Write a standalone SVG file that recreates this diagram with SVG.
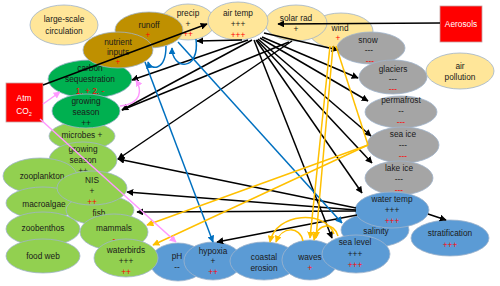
<svg xmlns="http://www.w3.org/2000/svg" width="500" height="286" viewBox="0 0 500 286">
<style>
text{font-family:"Liberation Sans",Arial,sans-serif;font-size:8.3px;fill:#1a1a1a;text-anchor:middle}
text.r{fill:#ff0000}
text.w{fill:#ffffff}
ellipse{stroke:#9fb4cc;stroke-width:0.8}
.ly{fill:#ffe699}.gd{fill:#bf9000}.dg{fill:#00b050}.lg{fill:#92d050}.gr{fill:#a5a5a5}.bl{fill:#5b9bd5}
rect.red{fill:#ff0000;stroke:#c9a0a0;stroke-width:0.8}
#connectors path{fill:none;stroke-width:1.5}
.k{stroke:#000}.b{stroke:#0070c0}.y{stroke:#ffc000}.p{stroke:#ff99ff}
</style>
<defs>
<marker id="mk" viewBox="0 0 10 10" refX="9" refY="5" markerWidth="7" markerHeight="7" markerUnits="userSpaceOnUse" orient="auto"><path d="M0,0 L10,5 L0,10 z" fill="#000"/></marker>
<marker id="mb" viewBox="0 0 10 10" refX="9" refY="5" markerWidth="7" markerHeight="7" markerUnits="userSpaceOnUse" orient="auto"><path d="M0,0 L10,5 L0,10 z" fill="#0070c0"/></marker>
<marker id="my" viewBox="0 0 10 10" refX="9" refY="5" markerWidth="7" markerHeight="7" markerUnits="userSpaceOnUse" orient="auto"><path d="M0,0 L10,5 L0,10 z" fill="#ffc000"/></marker>
<marker id="mp" viewBox="0 0 10 10" refX="9" refY="5" markerWidth="7" markerHeight="7" markerUnits="userSpaceOnUse" orient="auto"><path d="M0,0 L10,5 L0,10 z" fill="#ff99ff"/></marker>
</defs>

<g id="large-scale-circulation"><ellipse class="ly" cx="64" cy="25" rx="34" ry="20"/><text x="64" y="22">large-scale</text><text x="64" y="34">circulation</text></g>
<g id="wind"><ellipse class="ly" cx="341" cy="31" rx="32" ry="18"/><text x="340" y="31">wind</text><text class="r" x="338" y="41">+</text></g>
<g id="solar-rad"><ellipse class="ly" cx="296" cy="23" rx="31" ry="18"/><text x="296" y="21">solar rad</text><text x="296" y="32">+</text></g>
<g id="precip"><ellipse class="ly" cx="188" cy="22" rx="27" ry="18"/><text x="188" y="16">precip</text><text x="188" y="27">+</text><text class="r" x="188" y="37">++</text></g>
<g id="air-temp"><ellipse class="ly" cx="238" cy="21" rx="30" ry="19"/><text x="238" y="16">air temp</text><text x="238" y="27">+++</text><text class="r" x="238" y="38">+++</text></g>
<g id="carbon-sequestration"><ellipse class="dg" cx="90" cy="79" rx="42" ry="19"/><text x="90" y="71">carbon</text><text x="90" y="82">sequestration</text><text class="r" x="90" y="94">1. + 2. -</text></g>
<g id="runoff"><ellipse class="gd" cx="149" cy="30" rx="34" ry="18"/><text x="149" y="28">runoff</text><text class="r" x="148" y="38">+</text></g>
<g id="nutrient-inputs"><ellipse class="gd" cx="118" cy="50" rx="35" ry="18"/><text x="118" y="45">nutrient</text><text x="118" y="55">inputs</text><text class="r" x="118" y="65">+</text></g>
<g id="microbes"><ellipse class="lg" cx="82" cy="136" rx="33" ry="14"/><text x="82" y="138">microbes +</text></g>
<g id="growing-season"><ellipse class="dg" cx="86" cy="111" rx="34" ry="17"/><text x="86" y="104">growing</text><text x="86" y="115">season</text><text x="86" y="126">++</text></g>
<g id="growing-season-2"><ellipse class="lg" cx="83" cy="160" rx="34" ry="18"/><text x="83" y="152">growing</text><text x="83" y="163">season</text><text x="83" y="174">++</text></g>
<g id="zooplankton"><ellipse class="lg" cx="40" cy="176" rx="37" ry="18"/><text x="42" y="179">zooplankton</text></g>
<g id="macroalgae"><ellipse class="lg" cx="43" cy="203" rx="37" ry="16"/><text x="44" y="207">macroalgae</text></g>
<g id="fish"><ellipse class="lg" cx="100" cy="210" rx="34" ry="15"/><text x="99" y="216">fish</text></g>
<g id="NIS"><ellipse class="lg" cx="92" cy="188" rx="35" ry="17"/><text x="92" y="183">NIS</text><text x="92" y="194">+</text><text class="r" x="92" y="205">++</text></g>
<g id="zoobenthos"><ellipse class="lg" cx="43" cy="229" rx="37" ry="17"/><text x="43" y="231">zoobenthos</text></g>
<g id="food-web"><ellipse class="lg" cx="43" cy="256" rx="37" ry="17"/><text x="43" y="259">food web</text></g>
<g id="mammals"><ellipse class="lg" cx="114" cy="232" rx="34" ry="18"/><text x="114" y="231">mammals</text><text class="r" x="114" y="242">-</text></g>
<g id="pH"><ellipse class="bl" cx="178" cy="262" rx="28" ry="19"/><text x="177" y="259">pH</text><text x="177" y="270">--</text></g>
<g id="hypoxia"><ellipse class="bl" cx="213" cy="261" rx="29" ry="19"/><text x="213" y="254">hypoxia</text><text x="213" y="264">+</text><text class="r" x="213" y="275">++</text></g>
<g id="coastal-erosion"><ellipse class="bl" cx="264" cy="261" rx="34" ry="19"/><text x="264" y="260">coastal</text><text x="264" y="271">erosion</text></g>
<g id="waves"><ellipse class="bl" cx="310" cy="260" rx="28" ry="20"/><text x="310" y="260">waves</text><text class="r" x="310" y="271">+</text></g>
<g id="salinity"><ellipse class="bl" cx="375" cy="230" rx="34" ry="17"/><text x="376" y="234">salinity</text></g>
<g id="sea-level"><ellipse class="bl" cx="356" cy="254" rx="34" ry="19"/><text x="355" y="245">sea level</text><text x="355" y="257">+++</text><text class="r" x="355" y="268">+++</text></g>
<g id="stratification"><ellipse class="bl" cx="450" cy="238" rx="39" ry="18"/><text x="450" y="236">stratification</text><text class="r" x="450" y="248">+++</text></g>
<g id="snow"><ellipse class="gr" cx="371" cy="48" rx="34" ry="16"/><text x="368" y="43">snow</text><text x="369" y="53">---</text><text class="r" x="370" y="64">---</text></g>
<g id="glaciers"><ellipse class="gr" cx="393" cy="77" rx="34" ry="17"/><text x="393" y="72">glaciers</text><text x="393" y="82">---</text><text class="r" x="393" y="92">---</text></g>
<g id="permafrost"><ellipse class="gr" cx="401" cy="112" rx="36" ry="16"/><text x="401" y="103">permafrost</text><text x="401" y="114">--</text><text class="r" x="401" y="125">---</text></g>
<g id="sea-ice"><ellipse class="gr" cx="403" cy="145" rx="36" ry="18"/><text x="403" y="137">sea ice</text><text x="403" y="148">---</text><text class="r" x="403" y="159">---</text></g>
<g id="lake-ice"><ellipse class="gr" cx="399" cy="178" rx="34" ry="17"/><text x="399" y="171">lake ice</text><text x="399" y="182">---</text><text class="r" x="399" y="193">---</text></g>
<g id="water-temp"><ellipse class="bl" cx="392" cy="210" rx="37" ry="18"/><text x="392" y="202">water temp</text><text x="392" y="213">+++</text><text class="r" x="392" y="224">+++</text></g>
<g id="waterbirds"><ellipse class="lg" cx="126" cy="258" rx="32" ry="19"/><text x="126" y="253">waterbirds</text><text x="126" y="264">+++</text><text class="r" x="126" y="275">++</text></g>
<g id="air-pollution"><ellipse class="ly" cx="460" cy="71" rx="34" ry="18"/><text x="460" y="69">air</text><text x="460" y="80">pollution</text></g>
<g id="aerosols"><rect class="red" x="440" y="6" width="42" height="36"/><text class="w" x="461" y="27">Aerosols</text></g>
<g id="atm-co2"><rect class="red" x="6" y="83" width="37" height="39"/><text class="w" x="24" y="101">Atm</text><text class="w" x="24" y="114">CO<tspan font-size="5.5" dy="2">2</tspan></text></g>

<g id="connectors">
<path class="k" marker-end="url(#mk)" d="M440,23 L278,24"/>
<path class="k" marker-end="url(#mk)" d="M43,85 L207,24"/>
<path class="k" marker-end="url(#mk)" d="M242,40 L197,41"/>
<path class="k" marker-end="url(#mk)" d="M248,40 L132,80"/>
<path class="k" marker-end="url(#mk)" d="M252,40 L122,110"/>
<path class="k" d="M289,42 L122,110"/>
<path class="k" marker-end="url(#mk)" d="M292,41 L118,159"/>
<path class="k" marker-end="url(#mk)" d="M264,33 L338,50"/>
<path class="k" marker-end="url(#mk)" d="M262,37 L358,78"/>
<path class="k" marker-end="url(#mk)" d="M260,38 L368,101"/>
<path class="k" marker-end="url(#mk)" d="M258,39 L371,136"/>
<path class="k" marker-end="url(#mk)" d="M257,40 L372,163"/>
<path class="k" marker-end="url(#mk)" d="M256,40 L362,193"/>
<path class="k" marker-end="url(#mk)" d="M254,40 L332,238"/>
<path class="k" marker-end="url(#mk)" d="M356,208 L118,159"/>
<path class="k" marker-end="url(#mk)" d="M356,210 L127,192"/>
<path class="k" marker-end="url(#mk)" d="M356,211 L137,212"/>
<path class="k" marker-end="url(#mk)" d="M357,215 L217,242"/>
<path class="k" marker-end="url(#mk)" d="M428,214 L446,220"/>
<path class="b" marker-end="url(#mb)" d="M145,62 L213,242"/>
<path class="b" marker-end="url(#mb)" d="M178,42 L342,223"/>
<path class="b" marker-end="url(#mb)" d="M166,46 C166,72 150,70 148,62"/>
<path class="b" marker-end="url(#mb)" d="M196,39 C200,72 172,70 172,48"/>
<path class="y" d="M336,46 L368,145"/>
<path class="y" marker-end="url(#my)" d="M368,145 L147,225"/>
<path class="y" marker-end="url(#my)" d="M368,145 L153,245"/>
<path class="y" marker-end="url(#my)" d="M330,46 L310,238"/>
<path class="y" marker-end="url(#my)" d="M333,46 L316,238"/>
<path class="y" marker-end="url(#my)" d="M303,241 C300,226 282,226 276,242"/>
<path class="y" marker-end="url(#my)" d="M338,236 C334,222 318,222 314,240"/>
<path class="y" marker-end="url(#my)" d="M334,234 C326,210 276,212 270,242"/>
<path class="p" marker-end="url(#mp)" d="M43,104 L60,92"/>
<path class="p" marker-end="url(#mp)" d="M120,106 C142,104 142,90 136,80"/>
<path class="p" marker-end="url(#mp)" d="M40,119 L176,242"/>
</g>
</svg>
